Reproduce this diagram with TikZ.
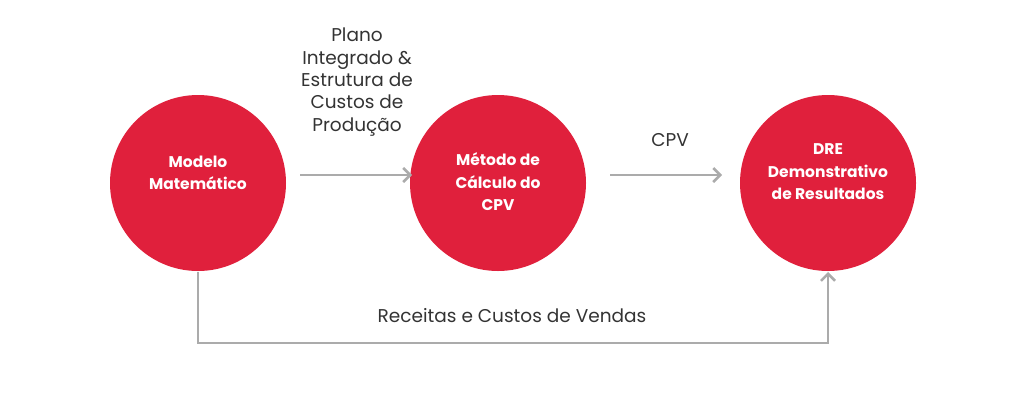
\documentclass[tikz,border=0pt]{standalone}
\usepackage{fontspec}
\setmainfont{Poppins}
\usetikzlibrary{arrows.meta}
\definecolor{cred}{HTML}{E0203C}
\definecolor{cgray}{HTML}{ABABAB}
\definecolor{ctext}{HTML}{333333}
\begin{document}
\begin{tikzpicture}[x=1pt,y=-1pt,
  circ/.style={circle,fill=cred,minimum size=176pt,inner sep=0pt},
  ctxt/.style={text=white,align=center,font=\fontsize{15.5}{22.5}\selectfont\bfseries},
  conn/.style={draw=cgray,line width=2.5pt,-{Straight Barb[length=7pt,width=14pt,line width=2.5pt]}},
  lbl/.style={text=ctext,align=center,font=\fontsize{18.5}{22.3}\selectfont}]
\useasboundingbox (0,0) rectangle (1024,400);
\node[circ] (a) at (198,183) {};
\node[circ] (b) at (498,183) {};
\node[circ] (c) at (828,183) {};
\node[ctxt] (ta) at (198,173) {Modelo\\Matemático};
\node[ctxt] (tb) at (498,182) {Método de\\Cálculo do\\CPV};
\node[ctxt] (tc) at (828,172) {DRE\\Demonstrativo\\de Resultados};
\coordinate (a1) at (300,175); \coordinate (b1) at (412,175);
\coordinate (b2) at (610,175); \coordinate (c1) at (722,175);
\draw[conn] (a1) -- (b1);
\draw[conn] (b2) -- (c1);
\coordinate (d1) at (198,272); \coordinate (d2) at (828,272);
\draw[conn] (d1) -- (198,343) -- (828,343) -- (d2);
\node[lbl] (l1) at (357,82) {Plano\\Integrado \&\\Estrutura de\\Custos de\\Produção};
\node[lbl] (l2) at (670,140) {CPV};
\node[lbl] (l3) at (512,316) {Receitas e Custos de Vendas};
\end{tikzpicture}
\end{document}
